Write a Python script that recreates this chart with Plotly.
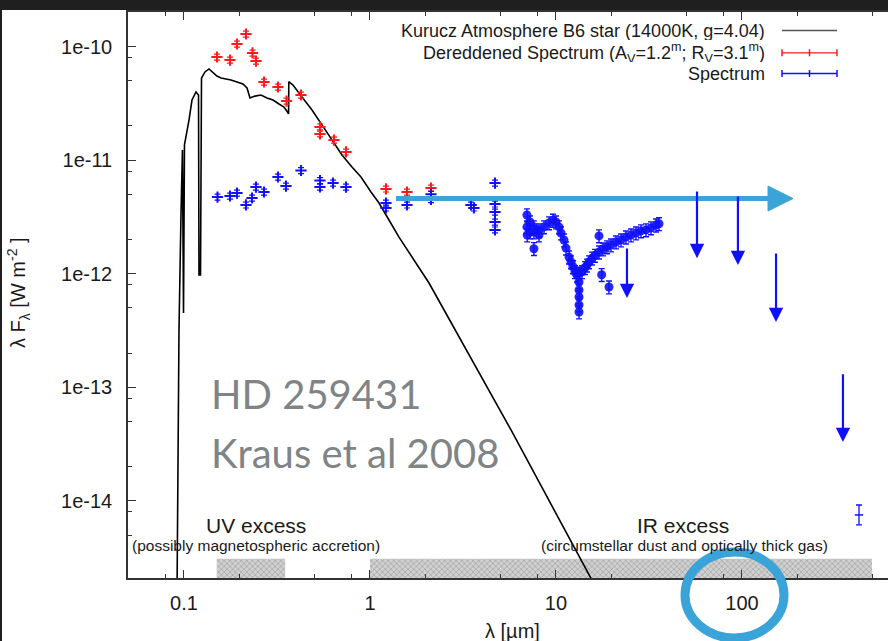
import math
import plotly.graph_objects as go

# ---------------------------------------------------------------------------
# Data (wavelength in micron, lambda*F_lambda in W m^-2)
# ---------------------------------------------------------------------------
model_wl = [0.0906, 0.0940, 0.0963, 0.0981, 0.0994, 0.1006, 0.1064, 0.1104,
            0.1160, 0.1197, 0.1204, 0.1227, 0.1242, 0.1297, 0.1363, 0.1432,
            0.1504, 0.1581, 0.1682, 0.1789, 0.1927, 0.2075, 0.2182, 0.2264,
            0.2408, 0.2594, 0.2794, 0.3010, 0.3241, 0.3448, 0.3601, 0.3650,
            0.3660, 0.3855, 0.4309, 0.4878, 0.5518, 0.6247, 0.7070, 0.8000,
            0.8946, 1.0125, 1.118, 1.265, 1.432, 2.076, 2.829, 5.73, 15.4, 21.8]
model_flux = [1e-16, 3.19e-13, 3.16e-12, 1.23e-11, 4.5e-13, 1.36e-11, 2.25e-11, 3.38e-11,
              3.98e-11, 3.74e-11, 9.75e-13, 9.75e-13, 5.28e-11, 5.97e-11, 6.34e-11, 5.85e-11,
              5.50e-11, 5.28e-11, 5.18e-11, 5.07e-11, 4.87e-11, 4.68e-11, 4.32e-11, 3.52e-11,
              3.66e-11, 3.74e-11, 3.52e-11, 3.38e-11, 3.12e-11, 2.93e-11, 2.65e-11, 2.55e-11,
              4.90e-11, 4.58e-11, 3.59e-11, 2.76e-11, 2.04e-11, 1.50e-11, 1.11e-11, 8.69e-12,
              7.10e-12, 5.24e-12, 4.19e-12, 2.97e-12, 2.10e-12, 8.28e-13, 3.33e-13, 4.21e-14, 2.09e-15, 7.3e-16]

dered_wl = [0.1504, 0.1767, 0.1927, 0.2154, 0.2335, 0.2438, 0.2692, 0.3200, 0.3557,
            0.4256, 0.5385, 0.5385, 0.6405, 0.743, 1.219, 1.581, 2.128]
dered_flux = [8.08e-11, 7.60e-11, 1.052e-10, 1.288e-10, 8.77e-11, 7.44e-11, 4.87e-11, 4.40e-11, 3.31e-11,
              3.74e-11, 1.96e-11, 1.70e-11, 1.50e-11, 1.18e-11, 5.57e-12, 5.24e-12, 5.68e-12]

phot_wl = [0.1514, 0.1767, 0.1927, 0.2154, 0.2321, 0.2438, 0.2692, 0.3200, 0.3535,
           0.4256, 0.5385, 0.5385, 0.6328, 0.743, 1.219, 1.219, 1.581, 2.128, 2.128,
           3.49, 3.62, 4.70, 4.70, 4.70, 4.70, 4.70]
phot_flux = [4.73e-12, 4.83e-12, 5.13e-12, 4.03e-12, 4.64e-12, 5.79e-12, 5.24e-12, 7.10e-12, 5.91e-12,
             8.10e-12, 6.60e-12, 5.80e-12, 6.28e-12, 5.79e-12, 4.19e-12, 3.79e-12, 4.03e-12, 5.00e-12, 4.50e-12,
             4.03e-12, 3.79e-12, 6.28e-12, 4.11e-12, 3.49e-12, 2.85e-12, 2.43e-12]

# mid-infrared spectrum
spec_wl = [6.98, 6.98, 7.00, 7.25, 7.25, 7.61, 7.61, 7.61, 8.10, 8.10, 8.62, 9.17, 9.63,
           10.0, 10.38, 10.64, 11.04, 11.32, 11.75, 12.04, 12.34, 12.65, 12.97, 13.30,
           13.30, 13.30, 13.30, 13.30, 13.30, 13.80, 14.32, 14.68, 15.05, 15.62, 16.21,
           17.03, 17.03, 17.6, 17.89, 18.80, 19.27, 19.75, 21.02, 22.36, 23.78, 25.30,
           26.92, 28.64, 30.47, 32.42, 34.48, 35.79]
spec_flux = [2.58e-12, 3.29e-12, 2.19e-12, 2.85e-12, 2.33e-12, 2.33e-12, 2.58e-12, 1.66e-12,
             2.43e-12, 2.19e-12, 2.58e-12, 2.80e-12, 2.95e-12, 2.85e-12, 2.58e-12, 2.28e-12,
             1.98e-12, 1.68e-12, 1.40e-12, 1.27e-12, 1.15e-12, 1.04e-12, 9.7e-13, 1.01e-12,
             8.46e-13, 7.19e-13, 6.24e-13, 5.30e-13, 4.60e-13, 1.04e-12, 1.13e-12, 1.19e-12,
             1.27e-12, 1.37e-12, 1.45e-12, 1.55e-12, 2.15e-12, 9.8e-13, 1.65e-12, 1.72e-12,
             7.64e-13, 1.79e-12, 1.90e-12, 1.98e-12, 2.10e-12, 2.19e-12, 2.28e-12, 2.38e-12,
             2.43e-12, 2.53e-12, 2.68e-12, 2.75e-12]

# far-infrared upper limits (arrow from limit down to tip)
ul_wl = [24.08, 57.3, 95.1, 152.4, 349.0]
ul_top = [1.72e-12, 5.46e-12, 4.93e-12, 1.55e-12, 1.34e-13]
ul_tip = [6.1e-13, 1.37e-12, 1.19e-12, 3.76e-13, 3.30e-14]

# millimetre detection
mm_wl = [425.6]
mm_flux = [7.52e-15]
mm_err_hi = [1.68e-15]
mm_err_lo = [1.38e-15]

# excess bands (micron) and their height
uv_band = [0.15, 0.35]
ir_band = [1.0, 500.0]
band_top = 3.1e-15
band_bottom = 1e-15

x_ticks = [0.1, 1, 10, 100]
x_tick_text = ["0.1", "1", "10", "100"]
y_ticks = [1e-14, 1e-13, 1e-12, 1e-11, 1e-10]
y_tick_text = ["1e-14", "1e-13", "1e-12", "1e-11", "1e-10"]

# ---------------------------------------------------------------------------
RED = "#ff1a1a"
BLUE = "#1010ff"
AXIS = "#333333"
TXT = "#1a1a1a"
HL = "#3aa4d9"
SANS = "Liberation Sans, Arial, sans-serif"

W, H = 888, 641
L, R, T, B = 128, 0, 12, 63
PW, PH = W - L - R, H - T - B


def px(p):
    return (p - L) / PW


def py(p):
    return (H - B - p) / PH


fig = go.Figure()

# hatched excess regions
for band in (uv_band, ir_band):
    fig.add_trace(go.Scatter(
        x=[band[0], band[1], band[1], band[0], band[0]],
        y=[band_bottom, band_bottom, band_top, band_top, band_bottom],
        mode="lines", fill="toself", line=dict(width=0),
        fillcolor="#c8c8c8",
        fillpattern=dict(shape="x", size=4, solidity=0.4, fgcolor="#8a8a8a", bgcolor="#d0d0d0"),
        hoverinfo="skip", showlegend=False))

# Kurucz model atmosphere
fig.add_trace(go.Scatter(x=model_wl, y=model_flux, mode="lines",
                         line=dict(color="black", width=1.6), showlegend=False))

# dereddened photometry
fig.add_trace(go.Scatter(
    x=dered_wl, y=dered_flux, mode="markers",
    marker=dict(symbol="cross-thin", size=8, color=RED, line=dict(width=2, color=RED)),
    error_y=dict(type="percent", value=6, color=RED, thickness=1.2, width=3),
    showlegend=False))

# observed photometry
fig.add_trace(go.Scatter(
    x=phot_wl, y=phot_flux, mode="markers",
    marker=dict(symbol="cross-thin", size=8, color=BLUE, line=dict(width=2, color=BLUE)),
    error_y=dict(type="percent", value=6, color=BLUE, thickness=1.2, width=3),
    showlegend=False))

# mid-infrared spectrum
fig.add_trace(go.Scatter(
    x=spec_wl, y=spec_flux, mode="markers",
    marker=dict(symbol="circle", size=9, color=BLUE, opacity=0.9),
    error_y=dict(type="percent", value=13, color=BLUE, thickness=1.4, width=3),
    showlegend=False))

# millimetre point
fig.add_trace(go.Scatter(
    x=mm_wl, y=mm_flux, mode="markers",
    marker=dict(symbol="line-ew", size=6, color=BLUE, line=dict(width=1.5, color=BLUE)),
    error_y=dict(type="data", array=mm_err_hi, arrayminus=mm_err_lo, color=BLUE, thickness=1.3, width=3),
    showlegend=False))

# upper limits
for wl, top, tip in zip(ul_wl, ul_top, ul_tip):
    fig.add_annotation(x=math.log10(wl), y=math.log10(tip), ax=math.log10(wl), ay=math.log10(top),
                       xref="x", yref="y", axref="x", ayref="y", text="", showarrow=True,
                       arrowhead=2, arrowsize=1.3, arrowwidth=2.2, arrowcolor=BLUE)

shapes = []
# dark frame edges
shapes.append(dict(type="rect", xref="paper", yref="paper", x0=px(-5), x1=px(W + 5), y0=py(10), y1=py(-5),
                   fillcolor="#1f1f1f", line=dict(width=0), layer="above"))
shapes.append(dict(type="rect", xref="paper", yref="paper", x0=px(-5), x1=px(2), y0=py(H + 5), y1=py(-5),
                   fillcolor="#1f1f1f", line=dict(width=0), layer="above"))

# legend samples
leg_x0, leg_x1, leg_xm = px(782), px(837), px(809.5)
leg_rows = [30.5, 52.8, 73.5]
cap = 3.5 / PH
shapes.append(dict(type="line", xref="paper", yref="paper", x0=leg_x0, x1=leg_x1,
                   y0=py(leg_rows[0]), y1=py(leg_rows[0]), line=dict(color="#555555", width=1.5)))
for row, col in ((leg_rows[1], RED), (leg_rows[2], BLUE)):
    yy = py(row)
    shapes.append(dict(type="line", xref="paper", yref="paper", x0=leg_x0, x1=leg_x1, y0=yy, y1=yy,
                       line=dict(color=col, width=1.3)))
    for xx in (leg_x0, leg_xm, leg_x1):
        shapes.append(dict(type="line", xref="paper", yref="paper", x0=xx, x1=xx, y0=yy - cap, y1=yy + cap,
                           line=dict(color=col, width=1.5)))

# highlight arrow and circle
ya = py(198.5)
shapes.append(dict(type="line", xref="paper", yref="paper", x0=px(396), x1=px(772), y0=ya, y1=ya,
                   line=dict(color=HL, width=5), layer="above"))
shapes.append(dict(type="path", xref="paper", yref="paper", layer="above",
                   path=f"M {px(768)},{py(186)} L {px(793)},{ya} L {px(768)},{py(211)} Z",
                   fillcolor=HL, line=dict(color=HL, width=1)))
shapes.append(dict(type="circle", xref="paper", yref="paper", layer="above",
                   x0=px(685), x1=px(784), y0=py(638), y1=py(552), line=dict(color=HL, width=9)))
fig.update_layout(shapes=shapes)

# legend texts
leg_text = [
    "Kurucz Atmosphere B6 star (14000K, g=4.04)",
    "Dereddened Spectrum (A<sub>V</sub>=1.2<sup>m</sup>; R<sub>V</sub>=3.1<sup>m</sup>)",
    "Spectrum",
]
for row, txt in zip(leg_rows, leg_text):
    fig.add_annotation(x=px(767), y=py(row), xref="paper", yref="paper", xanchor="right", yanchor="middle",
                       height=18, valign="middle",
                       text=txt, showarrow=False, font=dict(family=SANS, size=18, color=TXT))

# region labels
labels = [
    (256, 525, "UV excess", 21),
    (256, 545, "(possibly magnetospheric accretion)", 15.5),
    (683, 525, "IR excess", 21),
    (684, 545, "(circumstellar dust and optically thick gas)", 15.5),
]
for x0, y0, txt, sz in labels:
    fig.add_annotation(x=px(x0), y=py(y0), xref="paper", yref="paper", xanchor="center", yanchor="middle",
                       text=txt, showarrow=False, font=dict(family=SANS, size=sz, color=TXT))

# object name and reference
for y0, txt in ((394.5, "HD 259431"), (452.5, "Kraus et al 2008")):
    fig.add_annotation(x=px(209), y=py(y0), xref="paper", yref="paper", xanchor="left", yanchor="middle",
                       text=txt, showarrow=False, font=dict(family="Lato, sans-serif", size=40, color="#7f8486"))

# axis titles
fig.add_annotation(x=px(512), y=py(631), xref="paper", yref="paper", xanchor="center", yanchor="middle",
                   text="λ [µm]", showarrow=False, font=dict(family=SANS, size=20, color=TXT))
fig.add_annotation(x=px(18), y=py(293), xref="paper", yref="paper", xanchor="center", yanchor="middle",
                   text="λ F<sub>λ</sub> [W m<sup>-2</sup> ]", textangle=-90, showarrow=False,
                   font=dict(family=SANS, size=20, color=TXT))

minor_x = [m * 10.0 ** e for e in range(-2, 3) for m in (2, 5, 8)]
minor_y = [m * 10.0 ** e for e in range(-15, -9) for m in (2, 5, 8)]

x_left = math.log10(0.05)
x_right = x_left + PW / 186.0
y_bottom = -14.6787
y_top = y_bottom + PH / 113.6

fig.update_xaxes(type="log", range=[x_left, x_right], showline=True, linecolor=AXIS, linewidth=1.5,
                 mirror="ticks", ticks="inside", ticklen=8, tickwidth=1.2, tickcolor=AXIS,
                 tickvals=x_ticks, ticktext=x_tick_text, ticklabelstandoff=6,
                 tickfont=dict(family=SANS, size=20, color=TXT), showgrid=False, zeroline=False,
                 minor=dict(tickvals=minor_x, ticks="inside", ticklen=4, tickcolor=AXIS, showgrid=False))
fig.update_yaxes(type="log", range=[y_bottom, y_top], showline=True, linecolor=AXIS, linewidth=1.5,
                 mirror=False, ticks="inside", ticklen=8, tickwidth=1.2, tickcolor=AXIS,
                 tickvals=y_ticks, ticktext=y_tick_text, ticklabelstandoff=10,
                 tickfont=dict(family=SANS, size=20, color=TXT), showgrid=False, zeroline=False,
                 minor=dict(tickvals=minor_y, ticks="inside", ticklen=4, tickcolor=AXIS, showgrid=False))

fig.update_layout(width=W, height=H, margin=dict(l=L, r=R, t=T, b=B, pad=0, autoexpand=False),
                  paper_bgcolor="white", plot_bgcolor="white", showlegend=False)

fig.write_html("out.html")
